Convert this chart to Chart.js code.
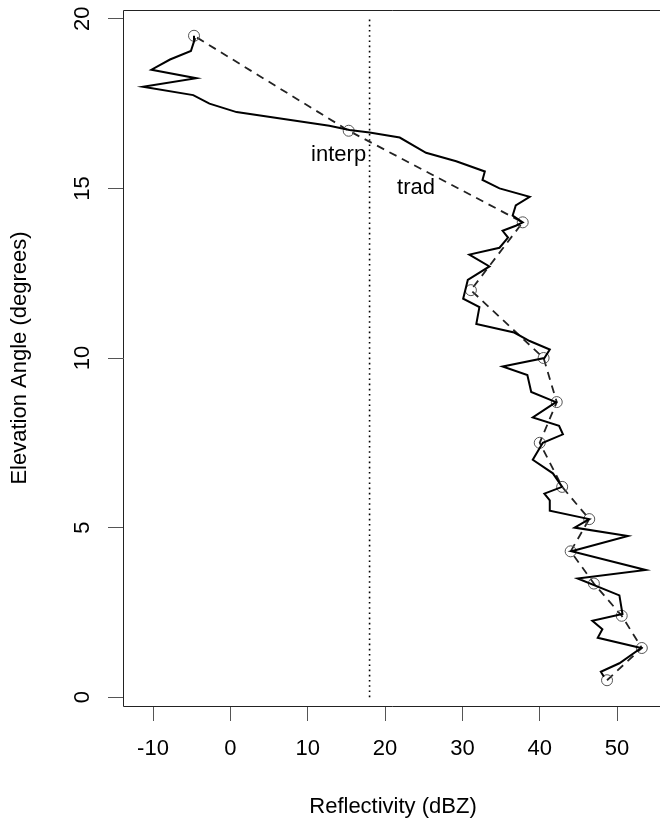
<!DOCTYPE html>
<html lang="en">
<head>
<meta charset="UTF-8">
<title>Reflectivity vs Elevation Angle</title>
<script src="https://cdn.jsdelivr.net/npm/chart.js@4"></script>
<style>
    html, body { margin: 0; padding: 0; background: #fff; overflow: hidden; }
    .wrap { width: 660px; height: 823px; }
</style>
</head>
<body>
<div class="wrap"><canvas id="chart" width="660" height="823"></canvas></div>
<script>
// traditional scan: one value per elevation of the volume
const elevTrad = [0.5, 1.45, 2.4, 3.35, 4.3, 5.25, 6.2, 7.5, 8.7, 10, 12, 14, 16.7, 19.5];
const reflTrad = [48.7, 53.2, 50.6, 47.0, 44.0, 46.4, 42.9, 40.0, 42.2, 40.5, 31.1, 37.8, 15.3, -4.7];

// interpolated profile
const elevInterp = [0.6, 0.75, 1.0, 1.45, 1.75, 2.0, 2.25, 2.45, 3.0, 3.5, 3.75, 4.3, 4.75, 5.0, 5.25,
    5.5, 5.8, 6.0, 6.2, 6.6, 7.0, 7.5, 7.75, 8.0, 8.25, 8.7, 9.0, 9.5, 9.75, 10.0,
    10.25, 10.5, 10.75, 11.0, 11.5, 11.75, 12.3, 12.7, 13.05, 13.25, 13.55, 13.75, 13.9, 14.0,
    14.2, 14.5, 14.75, 15.0, 15.25, 15.5, 15.8, 16.05, 16.5, 16.65, 16.72, 16.85,
    17.25, 17.5, 17.75, 18.0, 18.25, 18.5, 18.8, 19.05, 19.4, 19.5];
const reflInterp = [48.3, 47.9, 50.3, 53.1, 47.5, 48.1, 46.8, 50.7, 50.3, 44.9, 53.7, 44.1, 51.4, 44.5, 46.4,
    41.3, 41.3, 40.6, 42.9, 41.7, 39.1, 40.4, 43.0, 42.5, 39.1, 42.1, 38.9, 38.4, 35.2, 40.6,
    41.3, 38.7, 36.7, 31.8, 32.2, 30.1, 30.7, 33.5, 30.9, 34.8, 35.9, 35.2, 36.9, 37.8,
    36.5, 36.9, 38.7, 34.8, 32.6, 32.9, 29.2, 25.3, 21.9, 18.0, 15.4, 12.8,
    0.8, -2.7, -4.8, -11.3, -4.4, -10.2, -7.8, -5.1, -4.6, -4.7];

const threshold = 18;
const xTicks = [-10, 0, 10, 20, 30, 40, 50];
const yTicks = [0, 5, 10, 15, 20];
const labels = [
    { text: 'interp', x: 14, y: 16.0 },
    { text: 'trad', x: 24, y: 15.0 }
];

const FONT = '"Liberation Sans", Arial, sans-serif';
const FS = 22;

const toPts = (xs, ys) => xs.map((x, i) => ({ x: x, y: ys[i] }));

// box (its right side falls just outside the picture), rotated y tick labels, titles, text labels
const decor = {
    id: 'decor',
    afterDraw(chart) {
        const { ctx, chartArea: a, scales } = chart;
        ctx.save();
        ctx.strokeStyle = '#222';
        ctx.lineWidth = 1;
        ctx.beginPath();
        ctx.moveTo(a.right + 5, a.top + 0.5);
        ctx.lineTo(a.left + 0.5, a.top + 0.5);
        ctx.lineTo(a.left + 0.5, a.bottom + 0.5);
        ctx.lineTo(a.right + 5, a.bottom + 0.5);
        ctx.stroke();

        ctx.fillStyle = '#000';
        ctx.font = FS + 'px ' + FONT;
        ctx.textAlign = 'center';
        ctx.textBaseline = 'middle';

        yTicks.forEach(v => {
            const py = scales.y.getPixelForValue(v);
            ctx.save();
            ctx.translate(83, py);
            ctx.rotate(-Math.PI / 2);
            ctx.fillText(String(v), 0, 0);
            ctx.restore();
        });

        ctx.fillText('Reflectivity (dBZ)', 393, 807);
        ctx.save();
        ctx.translate(20, (a.top + a.bottom) / 2);
        ctx.rotate(-Math.PI / 2);
        ctx.fillText('Elevation Angle (degrees)', 0, 0);
        ctx.restore();

        labels.forEach(l => {
            ctx.fillText(l.text, scales.x.getPixelForValue(l.x), scales.y.getPixelForValue(l.y));
        });
        ctx.restore();
    }
};

new Chart(document.getElementById('chart'), {
    type: 'scatter',
    data: {
        datasets: [
            {
                data: toPts(reflInterp, elevInterp),
                showLine: true,
                borderColor: '#000',
                borderWidth: 2,
                pointRadius: 0
            },
            {
                data: toPts(reflTrad, elevTrad),
                showLine: true,
                borderColor: '#222',
                borderWidth: 1.8,
                borderDash: [8, 6],
                pointRadius: 5.5,
                pointBorderWidth: 1,
                pointBorderColor: '#555',
                pointBackgroundColor: 'rgba(0,0,0,0)'
            },
            {
                data: [{ x: threshold, y: 0 }, { x: threshold, y: 20 }],
                showLine: true,
                borderColor: '#000',
                borderWidth: 1.6,
                borderDash: [1.6, 3.6],
                pointRadius: 0
            }
        ]
    },
    options: {
        responsive: false,
        animation: false,
        layout: { autoPadding: false, padding: { top: 10, left: 0, right: 0, bottom: 0 } },
        plugins: { legend: { display: false }, tooltip: { enabled: false } },
        scales: {
            x: {
                type: 'linear',
                min: -13.88,
                max: 55.55,
                afterBuildTicks: s => { s.ticks = xTicks.map(v => ({ value: v })); },
                afterFit: s => { s.height = 117; s.paddingLeft = 0; s.paddingRight = 0; },
                ticks: {
                    font: { family: FONT, size: FS },
                    color: '#000',
                    padding: 15,
                    maxRotation: 0,
                    callback: v => String(v)
                },
                grid: { drawOnChartArea: false, tickLength: 15, color: '#555', lineWidth: 1 },
                border: { display: false }
            },
            y: {
                type: 'linear',
                min: -0.26,
                max: 20.26,
                afterBuildTicks: s => { s.ticks = yTicks.map(v => ({ value: v })); },
                afterFit: s => { s.width = 123; },
                ticks: { display: false },
                grid: { drawOnChartArea: false, tickLength: 15, color: '#555', lineWidth: 1 },
                border: { display: false }
            }
        }
    },
    plugins: [decor]
});
</script>
</body>
</html>
